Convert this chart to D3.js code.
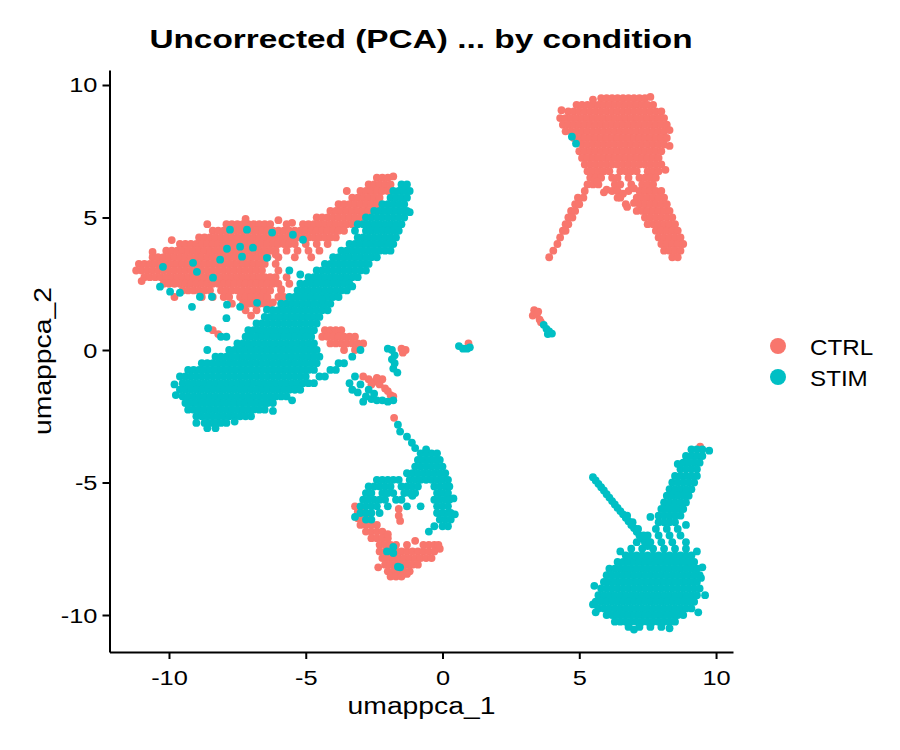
<!DOCTYPE html>
<html><head><meta charset="utf-8">
<script src="https://cdn.jsdelivr.net/npm/d3@7"></script>
<style>body{margin:0;background:#fff} text{font-family:"Liberation Sans",Arial,Helvetica,sans-serif}</style>
</head><body><svg id="chart" width="900" height="750"></svg>
<script>
// ---------- labels / categories ----------
const chartTitle = "Uncorrected (PCA) ... by condition";
const xLabel = "umappca_1", yLabel = "umappca_2";
const conditions = ["CTRL", "STIM"];
const conditionColors = ["#F8766D", "#00BFC4"];
const xTicks = [-10, -5, 0, 5, 10];
const yTicks = [-10, -5, 0, 5, 10];

// ---------- CTRL cells, rows of [umappca_2, [umappca_1 ...]] ----------
const ctrlTopRight = [
 [9.5,[5.8,6.0,6.2,6.4,6.6,6.8,7.0,7.2,7.4]],
 [9.25,[4.9,5.1,5.3,5.5,5.7,5.9,6.1,6.3,6.5,6.7,6.9,7.1,7.3,7.5,7.7]],
 [9.0,[4.6,4.8,5.0,5.2,5.4,5.6,5.8,6.0,6.2,6.4,6.6,6.8,7.0,7.2,7.4,7.6,7.8,8.0]],
 [8.75,[4.3,4.5,4.7,4.9,5.1,5.3,5.5,5.7,5.9,6.1,6.3,6.5,6.7,6.9,7.1,7.3,7.5,7.7,7.9,8.1]],
 [8.5,[4.4,4.6,4.8,5.0,5.2,5.4,5.6,5.8,6.0,6.2,6.4,6.6,6.8,7.0,7.2,7.4,7.6,7.8,8.0,8.2]],
 [8.25,[4.5,4.7,4.9,5.1,5.3,5.5,5.7,5.9,6.1,6.3,6.5,6.7,6.9,7.1,7.3,7.5,7.7,7.9,8.1]],
 [8.0,[4.8,5.0,5.2,5.4,5.6,5.8,6.0,6.2,6.4,6.6,6.8,7.0,7.2,7.4,7.6,7.8,8.0,8.2]],
 [7.75,[5.1,5.3,5.5,5.7,5.9,6.1,6.3,6.5,6.7,6.9,7.1,7.3,7.5,7.7,7.9,8.1]],
 [7.5,[5.0,5.2,5.4,5.6,5.8,6.0,6.2,6.4,6.6,6.8,7.0,7.2,7.4,7.6,7.8,8.0]],
 [7.25,[5.1,5.3,5.5,5.7,5.9,6.1,6.3,6.5,6.7,6.9,7.1,7.3,7.5,7.7,7.9]],
 [7.0,[5.2,5.4,5.6,5.8,6.0,6.2,6.4,6.6,6.8,7.0,7.2,7.4,7.6,7.8,8.0]],
 [6.75,[5.3,5.5,5.7,5.9,6.1,6.5,6.7,6.9,7.1,7.5,7.7,7.9]],
 [6.5,[5.4,5.6,5.8,6.2,6.4,6.8,7.2,7.4,7.6,7.8]],
 [6.25,[5.3,5.5,5.7,6.3,6.5,6.9,7.3,7.5,7.7]],
 [6.0,[5.2,6.2,6.4,6.8,7.2,7.4,7.6,7.8,8.0]],
 [5.75,[4.95,5.15,6.5,7.1,7.3,7.5,7.7,7.9,8.1]],
 [5.5,[4.85,5.0,6.7,7.2,7.4,7.6,7.8,8.0,8.2]],
 [5.25,[4.7,4.85,7.1,7.3,7.5,7.7,7.9,8.1,8.3]],
 [5.0,[4.6,4.75,7.4,7.6,7.8,8.0,8.2,8.4]],
 [4.75,[4.5,4.6,7.5,7.7,7.9,8.1,8.3,8.5]],
 [4.5,[4.4,4.5,7.8,8.0,8.2,8.4,8.6]],
 [4.25,[4.3,7.9,8.1,8.3,8.5,8.7]],
 [4.0,[4.2,8.0,8.2,8.4,8.6,8.8]],
 [3.75,[4.05,8.1,8.3,8.5,8.7]],
 [3.5,[3.9,8.4,8.6]]
];
const ctrlLeft = [
 [6.5,[-2.4,-2.2,-2.0]],
 [6.25,[-2.7,-2.5,-2.3,-2.1,-1.9]],
 [6.0,[-3.0,-2.8,-2.6,-2.4,-2.2,-2.0]],
 [5.75,[-3.3,-3.1,-2.9,-2.7,-2.5,-2.3]],
 [5.5,[-3.8,-3.6,-3.4,-3.2,-3.0,-2.8,-2.6,-2.4]],
 [5.25,[-4.1,-3.9,-3.7,-3.5,-3.3,-3.1,-2.9,-2.7]],
 [5.0,[-4.6,-4.4,-4.2,-4.0,-3.8,-3.6,-3.4,-3.2,-3.0]],
 [4.75,[-7.9,-7.7,-7.5,-7.3,-7.1,-6.9,-6.7,-6.5,-6.3,-5.7,-5.1,-4.9,-4.7,-4.5,-4.3,-4.1,-3.9,-3.7,-3.5,-3.3]],
 [4.5,[-8.4,-8.2,-8.0,-7.8,-7.6,-7.4,-7.2,-7.0,-6.8,-6.6,-6.4,-6.2,-6.0,-5.8,-5.6,-5.4,-5.2,-5.0,-4.8,-4.6,-4.4,-4.2,-4.0,-3.8,-3.6]],
 [4.25,[-8.9,-8.7,-8.5,-8.3,-8.1,-7.9,-7.7,-7.5,-7.3,-7.1,-6.9,-6.7,-6.5,-6.3,-6.1,-5.9,-5.7,-5.5,-5.3,-5.1,-4.9,-4.7,-4.5,-4.3,-4.1,-3.9]],
 [4.0,[-9.6,-9.4,-9.2,-9.0,-8.8,-8.6,-8.4,-8.2,-8.0,-7.8,-7.6,-7.4,-7.2,-7.0,-6.8,-6.6,-6.4,-6.2,-6.0,-5.8,-5.6,-5.4,-5.0,-4.6,-4.2]],
 [3.75,[-10.1,-9.9,-9.7,-9.5,-9.3,-9.1,-8.9,-8.7,-8.5,-8.3,-8.1,-7.9,-7.7,-7.5,-7.3,-7.1,-6.9,-6.7,-6.5,-6.3,-6.1,-5.7,-5.3,-4.9,-4.5]],
 [3.5,[-10.6,-10.4,-10.2,-10.0,-9.8,-9.6,-9.4,-9.2,-9.0,-8.8,-8.6,-8.4,-8.2,-8.0,-7.8,-7.6,-7.4,-7.2,-7.0,-6.8,-6.6,-6.4,-6.0,-5.4,-4.8]],
 [3.25,[-11.1,-10.9,-10.7,-10.5,-10.3,-10.1,-9.9,-9.7,-9.5,-9.3,-9.1,-8.9,-8.7,-8.5,-8.3,-8.1,-7.9,-7.7,-7.5,-7.3,-7.1,-6.9,-6.7,-6.5,-6.1]],
 [3.0,[-11.2,-11.0,-10.8,-10.6,-10.4,-10.2,-10.0,-9.8,-9.6,-9.4,-9.2,-9.0,-8.8,-8.6,-8.4,-8.2,-8.0,-7.8,-7.6,-7.4,-7.2,-7.0,-6.8,-6.6,-6.0]],
 [2.75,[-10.9,-10.7,-10.5,-10.3,-10.1,-9.9,-9.7,-9.5,-9.3,-9.1,-8.9,-8.7,-8.5,-8.3,-8.1,-7.9,-7.7,-7.5,-7.3,-7.1,-6.9,-6.7,-6.5,-6.3,-6.1,-5.7]],
 [2.5,[-10.2,-10.0,-9.8,-9.6,-9.4,-9.2,-9.0,-8.8,-8.6,-8.4,-8.2,-8.0,-7.8,-7.6,-7.4,-7.2,-7.0,-6.8,-6.6,-6.4,-6.2,-6.0,-5.6]],
 [2.25,[-9.5,-9.3,-9.1,-8.9,-8.7,-8.5,-8.1,-7.9,-7.7,-7.5,-7.3,-7.1,-6.9,-6.7,-6.5,-6.3,-5.9]],
 [2.0,[-8.8,-8.4,-8.0,-7.8,-7.4,-7.2,-7.0,-6.8,-6.6,-6.4,-6.0]],
 [1.75,[-7.7,-7.3,-7.1,-6.9,-6.7,-6.5,-6.3]],
 [1.5,[-7.2,-6.8]]
];
const ctrlMid = [
 [0.75,[-4.3,-4.1,-3.9,-3.7]],
 [0.5,[-4.4,-4.2,-4.0,-3.8,-3.6,-3.4,-3.2]],
 [0.25,[-4.1,-3.9,-3.7,-3.5,-3.3,-3.1,-2.9]],
 [0.0,[-3.6,-3.2]]
];
const ctrlHook = [
 [-6.1,[-3.1,-2.9]],
 [-6.35,[-3.1,-2.9,-2.7]],
 [-6.6,[-3.0,-2.8,-2.6,-2.4]],
 [-6.85,[-2.8,-2.6,-2.4,-2.2]],
 [-7.1,[-2.6,-2.4,-2.2,-2.0]],
 [-7.35,[-2.3,-2.1,-1.9,-1.7,-1.3,-0.7,-0.5,-0.3,-0.15]],
 [-7.6,[-2.3,-2.1,-1.9,-1.7,-1.5,-1.3,-1.1,-0.9,-0.7,-0.5,-0.3]],
 [-7.85,[-2.2,-2.0,-1.8,-1.6,-1.4,-1.2,-1.0,-0.8,-0.6,-0.4]],
 [-8.1,[-2.1,-1.9,-1.7,-1.5,-1.3,-1.1,-0.9]],
 [-8.35,[-2.0,-1.8,-1.6,-1.4,-1.2]],
 [-8.55,[-1.9,-1.7,-1.5]]
];
// single CTRL cells [umappca_1, umappca_2]
const ctrlSparse = [
 [-1.5,0.05],[-1.35,0.0],[-1.45,-0.1],
 [-2.9,-1.0],[-2.7,-1.1],[-2.5,-1.2],[-2.3,-1.3],[-2.1,-1.45],[-1.9,-1.7],[-2.2,-1.1],[-2.0,-1.55],[-1.8,-1.75],[-2.6,-1.3],[-2.4,-1.05],
 [0.95,0.25],
 [3.35,1.5],[3.3,1.3],[3.45,1.35],[3.55,1.15],[3.5,1.45],[3.6,1.05],
 [-1.77,-2.56],[-1.6,-6.0],[-1.6,-6.25],[-1.55,-6.45],
 [9.42,-3.65],[6.78,-8.44],[9.05,-8.18],
 [-8.4,0.75],[-8.2,0.6],[-5.9,2.3],[-6.1,3.6],
 [5.65,6.35],[6.0,6.05],[6.6,5.9],[6.75,5.4],[7.0,5.55],[5.9,5.95],[4.35,9.05],[8.3,8.3],[8.3,7.7],
 [8.15,6.8],[7.6,9.55],[5.5,9.45],[7.0,6.1],[6.4,5.75],
 [-11.0,2.6],[-10.6,3.7],[-9.9,4.15],[-8.6,4.75],[-7.2,4.95],[-6.0,4.9],[-5.5,4.8],[-9.8,2.0],
 [-7.0,1.3],[-6.2,1.8],[-5.8,2.0],[-3.5,6.0],[-1.8,6.55],
 [-3.2,-5.9],[-2.0,-6.95],[-1.0,-7.2],[-0.1,-7.5],[-2.35,-8.2],[-1.3,-8.45]
];

// ---------- STIM cells ----------
const stimBottomRight = [
 [-3.75,[9.1,9.3,9.5]],
 [-4.0,[8.9,9.1,9.3,9.5]],
 [-4.25,[8.8,9.0,9.2,9.4]],
 [-4.5,[8.7,8.9,9.1,9.3]],
 [-4.75,[8.5,8.7,8.9,9.1,9.3]],
 [-5.0,[8.4,8.6,8.8,9.0,9.2]],
 [-5.25,[8.3,8.5,8.7,8.9,9.1]],
 [-5.5,[8.2,8.4,8.6,8.8,9.0]],
 [-5.75,[8.1,8.3,8.5,8.7,8.9]],
 [-6.0,[8.0,8.2,8.4,8.6,8.8]],
 [-6.25,[7.9,8.1,8.3,8.5,8.7]],
 [-6.5,[7.9,8.1,8.3,8.5]],
 [-6.75,[7.8,8.2,8.6]],
 [-7.0,[7.5,7.9,8.3,8.7]],
 [-7.25,[7.1,7.6,8.0,8.4,8.9]],
 [-7.5,[6.9,7.3,7.7,8.1,8.5,8.9]],
 [-7.75,[6.7,6.9,7.1,7.3,7.5,7.7,7.9,8.1,8.3,8.5,8.7,8.9,9.1]],
 [-8.0,[6.4,6.6,6.8,7.0,7.2,7.4,7.6,7.8,8.0,8.2,8.4,8.6,8.8,9.0,9.2]],
 [-8.25,[6.1,6.3,6.5,6.7,6.9,7.1,7.3,7.5,7.7,7.9,8.1,8.3,8.5,8.7,8.9,9.1,9.3]],
 [-8.5,[6.0,6.2,6.4,6.6,6.8,7.0,7.2,7.4,7.6,7.8,8.0,8.2,8.4,8.6,8.8,9.0,9.2,9.4]],
 [-8.75,[5.9,6.1,6.3,6.5,6.7,6.9,7.1,7.3,7.5,7.7,7.9,8.1,8.3,8.5,8.7,8.9,9.1,9.3]],
 [-9.0,[5.8,6.0,6.2,6.4,6.6,6.8,7.0,7.2,7.4,7.6,7.8,8.0,8.2,8.4,8.6,8.8,9.0,9.2,9.4]],
 [-9.25,[5.7,5.9,6.1,6.3,6.5,6.7,6.9,7.1,7.3,7.5,7.7,7.9,8.1,8.3,8.5,8.7,8.9,9.1,9.3,9.6]],
 [-9.5,[5.6,5.8,6.0,6.2,6.4,6.6,6.8,7.0,7.2,7.4,7.6,7.8,8.0,8.2,8.4,8.6,8.8,9.0,9.2]],
 [-9.75,[5.7,5.9,6.1,6.3,6.5,6.7,6.9,7.1,7.3,7.5,7.7,7.9,8.1,8.3,8.5,8.7,8.9,9.1]],
 [-10.0,[6.0,6.2,6.4,6.6,6.8,7.0,7.2,7.4,7.6,7.8,8.0,8.2,8.4,8.6,8.8]],
 [-10.25,[6.3,6.5,6.7,6.9,7.1,7.3,7.5,7.7,7.9,8.1,8.3,8.5]],
 [-10.45,[6.8,7.2,7.6,8.0]]
];
const stimLeft = [
 [6.25,[-1.5,-1.3]],
 [6.0,[-1.8,-1.6,-1.4]],
 [5.75,[-1.9,-1.7,-1.5,-1.3]],
 [5.5,[-2.2,-2.0,-1.8,-1.6,-1.4]],
 [5.25,[-2.5,-2.3,-2.1,-1.9,-1.7,-1.5,-1.3]],
 [5.0,[-2.8,-2.6,-2.4,-2.2,-2.0,-1.8,-1.6,-1.4]],
 [4.75,[-3.1,-2.9,-2.7,-2.5,-2.3,-2.1,-1.9,-1.7,-1.5]],
 [4.5,[-3.2,-2.8,-2.6,-2.4,-2.2,-2.0,-1.8,-1.6]],
 [4.25,[-3.1,-2.9,-2.7,-2.5,-2.3,-2.1,-1.9,-1.7]],
 [4.0,[-3.4,-3.2,-3.0,-2.8,-2.6,-2.4,-2.2,-2.0,-1.8]],
 [3.75,[-3.7,-3.5,-3.3,-3.1,-2.9,-2.7,-2.5,-2.3,-2.1,-1.9]],
 [3.5,[-4.0,-3.8,-3.6,-3.4,-3.2,-3.0,-2.8,-2.6,-2.4]],
 [3.25,[-4.3,-4.1,-3.9,-3.7,-3.5,-3.3,-3.1,-2.9,-2.7]],
 [3.0,[-4.6,-4.4,-4.2,-4.0,-3.8,-3.6,-3.4,-3.2,-3.0,-2.8]],
 [2.75,[-4.9,-4.7,-4.5,-4.3,-4.1,-3.9,-3.7,-3.5,-3.3,-3.1]],
 [2.5,[-5.2,-5.0,-4.8,-4.6,-4.4,-4.2,-4.0,-3.8,-3.6,-3.4]],
 [2.25,[-5.3,-5.1,-4.9,-4.7,-4.5,-4.3,-4.1,-3.9,-3.7,-3.5]],
 [2.0,[-5.6,-5.4,-5.2,-5.0,-4.8,-4.6,-4.4,-4.2,-4.0,-3.8]],
 [1.75,[-5.9,-5.7,-5.5,-5.3,-5.1,-4.9,-4.7,-4.5,-4.3,-4.1]],
 [1.5,[-6.2,-6.0,-5.8,-5.6,-5.4,-5.2,-5.0,-4.8,-4.6,-4.4,-4.2]],
 [1.25,[-6.5,-6.3,-6.1,-5.9,-5.7,-5.5,-5.3,-5.1,-4.9,-4.7,-4.5]],
 [1.0,[-6.8,-6.6,-6.4,-6.2,-6.0,-5.8,-5.6,-5.4,-5.2,-5.0,-4.8,-4.6]],
 [0.75,[-7.1,-6.9,-6.7,-6.5,-6.3,-6.1,-5.9,-5.7,-5.5,-5.3,-5.1,-4.9,-4.7]],
 [0.5,[-7.2,-7.0,-6.8,-6.6,-6.4,-6.2,-6.0,-5.8,-5.6,-5.4,-5.2,-5.0,-4.8]],
 [0.25,[-7.5,-7.3,-7.1,-6.9,-6.7,-6.5,-6.3,-6.1,-5.9,-5.7,-5.5,-5.3,-5.1,-4.9,-4.7]],
 [0.0,[-7.8,-7.6,-7.4,-7.2,-7.0,-6.8,-6.6,-6.4,-6.2,-6.0,-5.8,-5.6,-5.4,-5.2,-5.0,-4.8,-4.6,-3.0]],
 [-0.25,[-8.3,-8.1,-7.9,-7.7,-7.5,-7.3,-7.1,-6.9,-6.7,-6.5,-6.3,-6.1,-5.9,-5.7,-5.5,-5.3,-5.1,-4.9,-4.7,-4.5,-3.3]],
 [-0.5,[-8.8,-8.6,-8.4,-8.2,-8.0,-7.8,-7.6,-7.4,-7.2,-7.0,-6.8,-6.6,-6.4,-6.2,-6.0,-5.8,-5.6,-5.4,-5.2,-5.0,-4.8,-4.6,-3.8,-3.6]],
 [-0.75,[-9.3,-9.1,-8.9,-8.7,-8.5,-8.3,-8.1,-7.9,-7.7,-7.5,-7.3,-7.1,-6.9,-6.7,-6.5,-6.3,-6.1,-5.9,-5.7,-5.5,-5.3,-5.1,-4.9,-4.7,-4.1,-3.9]],
 [-1.0,[-9.6,-9.4,-9.2,-9.0,-8.8,-8.6,-8.4,-8.2,-8.0,-7.8,-7.6,-7.4,-7.2,-7.0,-6.8,-6.6,-6.4,-6.2,-6.0,-5.8,-5.6,-5.4,-5.2,-5.0,-4.5,-4.3]],
 [-1.25,[-9.5,-9.3,-9.1,-8.9,-8.7,-8.5,-8.3,-8.1,-7.9,-7.7,-7.5,-7.3,-7.1,-6.9,-6.7,-6.5,-6.3,-6.1,-5.9,-5.7,-5.5,-5.3,-5.1,-4.9,-4.7]],
 [-1.5,[-9.6,-9.4,-9.2,-9.0,-8.8,-8.6,-8.4,-8.2,-8.0,-7.8,-7.6,-7.4,-7.2,-7.0,-6.8,-6.6,-6.4,-6.2,-6.0,-5.8,-5.6,-5.4,-5.2]],
 [-1.75,[-9.5,-9.3,-9.1,-8.9,-8.7,-8.5,-8.3,-8.1,-7.9,-7.7,-7.5,-7.3,-7.1,-6.9,-6.7,-6.5,-6.3,-6.1,-5.9,-5.7]],
 [-2.0,[-9.4,-9.2,-9.0,-8.8,-8.6,-8.4,-8.2,-8.0,-7.8,-7.6,-7.4,-7.2,-7.0,-6.8,-6.6,-6.4,-6.2]],
 [-2.25,[-9.3,-9.1,-8.9,-8.7,-8.5,-8.3,-8.1,-7.9,-7.7,-7.5,-7.3,-7.1,-6.9,-6.7,-6.5]],
 [-2.5,[-9.0,-8.8,-8.6,-8.4,-8.2,-8.0,-7.8,-7.6,-7.4,-7.2,-7.0]],
 [-2.75,[-8.7,-8.5,-8.3,-8.1,-7.9]],
 [-2.95,[-8.6,-8.3]]
];
const stimHook = [
 [-3.9,[-0.8,-0.6,-0.4,-0.2]],
 [-4.15,[-0.9,-0.7,-0.5,-0.3,-0.1]],
 [-4.4,[-1.0,-0.8,-0.6,-0.4,-0.2,0.0]],
 [-4.65,[-1.3,-1.1,-0.9,-0.7,-0.5,-0.3,-0.1,0.1]],
 [-4.9,[-2.4,-2.2,-2.0,-1.8,-1.6,-1.2,-1.0,-0.8,-0.6,-0.4,-0.2,0.0,0.2]],
 [-5.15,[-2.7,-2.5,-2.3,-2.1,-1.9,-1.5,-1.3,-1.1,-0.9,-0.3,-0.1,0.1,0.25]],
 [-5.4,[-2.8,-2.6,-2.2,-2.0,-1.8,-1.4,-1.2,-1.0,-0.2,0.0,0.2]],
 [-5.65,[-2.9,-2.7,-2.5,-2.3,-2.1,-1.7,-1.5,-0.3,-0.1,0.1,0.25]],
 [-5.9,[-3.0,-2.8,-2.6,-2.4,-2.0,-1.3,-0.8,-0.2,0.0,0.2]],
 [-6.15,[-3.0,-2.8,-2.6,-2.3,-0.2,0.0,0.2,0.3]],
 [-6.4,[-2.8,-2.6,-0.1,0.1,0.3]],
 [-6.65,[-0.3,0.0,0.2]]
];
const stimLine = [
 [5.5,-4.8],[5.6,-4.92],[5.7,-5.05],[5.8,-5.18],[5.9,-5.3],[6.0,-5.44],[6.1,-5.57],[6.2,-5.7],[6.3,-5.83],
 [6.4,-5.96],[6.5,-6.08],[6.6,-6.2],[6.7,-6.33],[6.8,-6.46],[6.9,-6.6],[7.0,-6.72],[7.1,-6.86],[7.2,-7.0],
 [7.3,-7.12],[7.4,-7.26],[7.5,-7.4],[6.75,-6.25],[6.95,-6.5],[7.15,-6.75],[7.35,-7.0],[7.55,-7.25]
];
const stimSparse = [
 [4.73,8.05],[4.88,7.79],
 [-10.22,3.14],[-9.12,3.29],[-8.98,2.95],[-8.39,2.73],[-7.77,4.54],[-7.15,4.54],[-7.4,3.9],[-6.93,3.86],
 [-7.88,3.82],[-8.13,3.41],[-7.33,3.52],[-6.42,3.48],[-6.23,4.43],[-5.47,4.35],[-5.1,4.16],
 [-10.33,2.39],[-9.96,2.2],[-9.6,2.16],[-9.16,1.63],[-8.87,2.01],[-8.43,2.01],[-7.88,1.71],[-7.4,1.63],[-6.78,1.78],[-6.42,1.52],
 [-8.57,0.82],[-8.1,0.5],[-7.9,1.2],[-5.6,3.0],[-5.2,2.85],
 [-2.0,0.05],[-1.85,0.0],[-1.75,-0.2],[-1.85,-0.35],[-1.75,-0.5],[-1.8,-0.7],[-1.65,-0.85],
 [-3.3,-1.5],[-3.1,-1.6],[-2.8,-1.75],[-2.6,-1.85],[-2.4,-1.9],[-2.2,-1.9],[-2.0,-1.95],[-1.8,-1.9],
 [-2.5,-1.65],[-3.0,-1.3],[-3.4,-1.25],[-2.9,-1.95],[-3.2,-1.0],[-2.7,-1.5],
 [0.6,0.15],[0.75,0.05],[0.9,0.05],[1.0,0.1],
 [3.7,0.95],[3.8,0.8],[3.9,0.7],[4.0,0.62],[3.85,0.6],
 [-1.63,-2.82],[-1.55,-3.08],[-1.3,-3.27],[-1.12,-3.5],[-1.0,-3.7],
 [-2.03,-7.6],[-1.8,-7.43],[-1.8,-7.66],[-1.63,-8.18],[-1.55,-8.2],[-0.5,-6.85],
 [5.5,-9.6],[9.45,-8.6],
 [5.55,-8.9],[5.6,-9.9],[9.5,-8.2],[9.35,-9.9],[7.0,-10.55],[8.3,-10.5],[6.5,-7.6],[9.3,-7.6],
 [9.75,-3.8],[8.6,-4.3],[7.6,-6.3],[8.9,-6.6],
 [-9.8,-1.3],[-9.75,-1.7],[-9.0,-2.75],[-7.6,-2.7],[-6.2,-2.3],[-5.5,-1.9],[-8.6,0.0],[-7.9,0.5],
 [-1.2,6.0],[-1.2,5.2],[-4.4,1.9],[-3.3,2.4],
 [-3.2,-6.3],[-1.1,-5.5],[0.4,-5.6],[0.45,-6.2],[-0.6,-3.75]
];

// ---------- drawing ----------
const svg = d3.select("#chart");
const x = d3.scaleLinear().domain([-12.175, 10.62]).range([109.5, 733]);
const y = d3.scaleLinear().domain([-11.396, 10.566]).range([652, 70]);
const color = d3.scaleOrdinal().domain(conditions).range(conditionColors);

const rowsToPts = rows => rows.flatMap(([yy, xs]) => xs.map(xx => [xx, yy]));
const cells = [
  ...[...rowsToPts(ctrlTopRight), ...rowsToPts(ctrlLeft), ...rowsToPts(ctrlMid), ...rowsToPts(ctrlHook), ...ctrlSparse]
     .map(p => ({x: p[0], y: p[1], cond: "CTRL"})),
  ...[...rowsToPts(stimBottomRight), ...rowsToPts(stimLeft), ...rowsToPts(stimHook), ...stimLine, ...stimSparse]
     .map(p => ({x: p[0], y: p[1], cond: "STIM"}))
];

svg.append("g").selectAll("circle").data(cells).join("circle")
  .attr("cx", d => x(d.x)).attr("cy", d => y(d.y)).attr("r", 3.9)
  .attr("fill", d => color(d.cond));

// axes
const fmt = d => String(d);
const gx = svg.append("g").attr("transform", "translate(0,652)")
  .call(d3.axisBottom(x).tickValues(xTicks).tickSize(7).tickSizeOuter(0).tickFormat(fmt));
const gy = svg.append("g").attr("transform", "translate(109.5,0)")
  .call(d3.axisLeft(y).tickValues(yTicks).tickSize(7).tickSizeOuter(0).tickFormat(fmt));
[gx, gy].forEach(g => {
  g.select(".domain").attr("stroke", "#000").attr("stroke-width", 2);
  g.selectAll(".tick line").attr("stroke", "#000").attr("stroke-width", 2);
  g.selectAll(".tick text").attr("fill", "#000").attr("font-size", 20)
    .style("font-family", '"Liberation Sans", Arial, sans-serif');
});
gx.selectAll(".tick text").attr("y", null).attr("dy", null)
  .attr("text-anchor", "middle").attr("transform", "translate(0,33) scale(1.27,1)");
gy.selectAll(".tick text").attr("x", null).attr("dy", null)
  .attr("text-anchor", "end").attr("transform", "translate(-12,7) scale(1.27,1)");

// title & labels
svg.append("text").attr("transform", "translate(421,48) scale(1.26,1)")
  .attr("text-anchor", "middle").attr("font-size", 26.5).attr("font-weight", "bold").text(chartTitle);
svg.append("text").attr("transform", "translate(421.5,714) scale(1.23,1)")
  .attr("text-anchor", "middle").attr("font-size", 23).text(xLabel);
svg.append("text").attr("transform", "translate(51,361) rotate(-90) scale(1.23,1)")
  .attr("text-anchor", "middle").attr("font-size", 23).text(yLabel);

// legend
const lg = svg.append("g").selectAll("g").data(conditions).join("g")
  .attr("transform", (d, i) => `translate(778,${346 + i * 31})`);
lg.append("circle").attr("r", 8).attr("fill", d => color(d));
lg.append("text").attr("transform", "translate(32,8.5) scale(1.1,1)")
  .attr("font-size", 22).text(d => d);
</script></body></html>
